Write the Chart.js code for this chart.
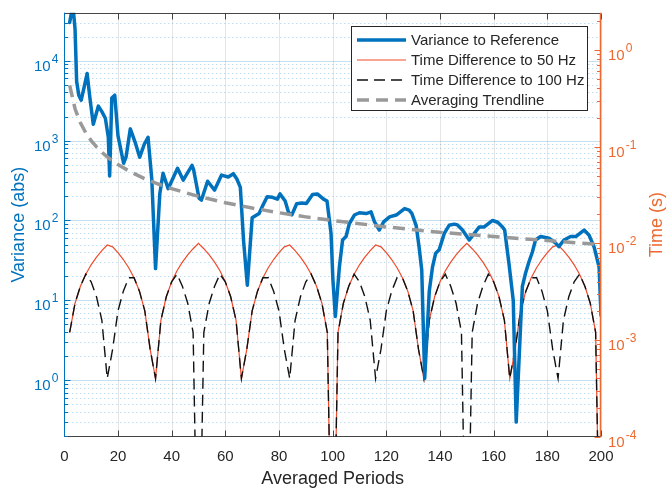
<!DOCTYPE html>
<html>
<head>
<meta charset="utf-8">
<script src="https://cdn.jsdelivr.net/npm/chart.js@4.4.1/dist/chart.umd.min.js"></script>
<style>
  html, body { margin: 0; padding: 0; background: #fff; }
  canvas { display: block; }
</style>
</head>
<body>
<canvas id="chart" width="667" height="489"></canvas>
<script>
// ---- data ----
const xTicks = [0, 20, 40, 60, 80, 100, 120, 140, 160, 180, 200];
const leftExps = [0, 1, 2, 3, 4];        // 10^k on the variance axis
const rightExps = [-4, -3, -2, -1, 0];   // 10^k on the time axis

// variance to reference (left axis)
const varX = [2, 3.2, 4, 4.6, 5.4, 6.3, 7.6, 8.5, 9.6, 10.8, 12.7, 14, 15.3, 16.4, 16.9, 17.7, 18.8, 20, 22.1, 23,
  24.6, 26.4, 28.1, 29.8, 31.2, 32.6, 34, 35.6, 36.8, 38.7, 42.2, 44.3, 47.6, 48.2, 50.2, 51.1, 53.4, 56, 58.6, 61.1,
  63, 64.3, 65.6, 66.8, 68.2, 70, 72.6, 73.8, 75.6, 77.6, 79.4, 80.4, 82.3, 83.6, 84.8, 86.6, 88.5, 90.2, 92.5, 94.3,
  96.6, 97.9, 99.4, 100.1, 101, 102.5, 103.7, 105, 106.2, 108.1, 110, 112.5, 114.3, 115.6, 117.4, 119, 121.2, 123.7, 126.8, 128.5,
  129.5, 131.1, 132.2, 133.2, 134.3, 136, 137.2, 138.4, 139.7, 141.6, 143.4, 145.3, 146.5, 148.4, 150.9, 152.8, 154.6, 156.5, 159.6, 161.5,
  163.3, 164.1, 165.7, 167.3, 168.4, 170.7, 171.9, 173.1, 174.4, 175.6, 177.5, 180.6, 183.1, 184.3, 186.2, 188.7, 190.6, 193.7, 195.5, 197.4,
  199.3, 200];
const varY = [30000, 50000, 25000, 5500, 3700, 3200, 5000, 6900, 3300, 1600, 2700, 2300, 1900, 1100, 360, 3400, 3700, 1150, 520, 620,
  1400, 950, 620, 900, 1100, 330, 25, 218, 390, 250, 450, 320, 490, 430, 190, 180, 310, 240, 370, 350,
  385, 330, 260, 56, 15.5, 108, 122, 150, 198, 195, 185, 215, 175, 125, 118, 162, 165, 163, 212, 215,
  185, 175, 69, 18, 6.3, 26, 57, 63, 91, 117, 125, 122, 128, 96, 76, 96, 111, 117, 141, 135,
  123, 87, 47, 24, 1.06, 13, 26, 39, 43, 69, 87, 90, 88, 76, 57, 69, 83, 83, 100, 95,
  83, 76, 29, 10, 0.3, 15, 22, 30, 40, 57, 63, 60, 52, 47, 57, 63, 63, 76, 66, 47,
  26, 6.5];

// averaging trendline (left axis)
const trendX = [2, 4, 6, 8, 10, 12, 14, 16, 18, 20, 25, 30, 35, 40, 50, 60, 70, 80, 90, 100, 120, 140, 160, 180, 200];
const trendY = [4900, 2500, 1667, 1250, 1000, 833, 714, 625, 556, 500, 400, 333, 286, 250, 200, 167, 143, 125, 111, 100, 83, 71, 63, 56, 50];

// time differences (right axis), every second period
const periods = [2, 4, 6, 8, 10, 12, 14, 16, 18, 20, 22, 24, 26, 28, 30, 32, 34, 36, 38, 40, 42, 44, 46, 48, 50,
  52, 54, 56, 58, 60, 62, 64, 66, 68, 70, 72, 74, 76, 78, 80, 82, 84, 86, 88, 90, 92, 94, 96, 98, 100,
  102, 104, 106, 108, 110, 112, 114, 116, 118, 120, 122, 124, 126, 128, 130, 132, 134, 136, 138, 140, 142, 144, 146, 148, 150,
  152, 154, 156, 158, 160, 162, 164, 166, 168, 170, 172, 174, 176, 178, 180, 182, 184, 186, 188, 190, 192, 194, 196, 198, 200];
const diff50 = [0.0012, 0.0024, 0.0036, 0.0048, 0.0060, 0.0072, 0.0084, 0.0096, 0.0092, 0.0080, 0.0068, 0.0056, 0.0044, 0.0032, 0.0020, 0.0008,
  0.0004, 0.0016, 0.0028, 0.0040, 0.0052, 0.0064, 0.0076, 0.0088, 0.0100, 0.0088, 0.0076, 0.0064, 0.0052, 0.0040, 0.0028, 0.0016,
  0.0004, 0.0008, 0.0020, 0.0032, 0.0044, 0.0056, 0.0068, 0.0080, 0.0092, 0.0096, 0.0084, 0.0072, 0.0060, 0.0048, 0.0036, 0.0024, 0.0012, 0.000001,
  0.0012, 0.0024, 0.0036, 0.0048, 0.0060, 0.0072, 0.0084, 0.0096, 0.0092, 0.0080, 0.0068, 0.0056, 0.0044, 0.0032, 0.0020, 0.0008,
  0.0004, 0.0016, 0.0028, 0.0040, 0.0052, 0.0064, 0.0076, 0.0088, 0.0100, 0.0088, 0.0076, 0.0064, 0.0052, 0.0040, 0.0028, 0.0016,
  0.0004, 0.0008, 0.0020, 0.0032, 0.0044, 0.0056, 0.0068, 0.0080, 0.0092, 0.0096, 0.0084, 0.0072, 0.0060, 0.0048, 0.0036, 0.0024, 0.0012, 0.000001];
const diff100 = [0.0012, 0.0024, 0.0036, 0.0048, 0.0040, 0.0028, 0.0016, 0.0004, 0.0008, 0.0020, 0.0032, 0.0044, 0.0044, 0.0032, 0.0020, 0.0008,
  0.0004, 0.0016, 0.0028, 0.0040, 0.0048, 0.0036, 0.0024, 0.0012, 0.000001, 0.0012, 0.0024, 0.0036, 0.0048, 0.0040, 0.0028, 0.0016,
  0.0004, 0.0008, 0.0020, 0.0032, 0.0044, 0.0044, 0.0032, 0.0020, 0.0008, 0.0004, 0.0016, 0.0028, 0.0040, 0.0048, 0.0036, 0.0024, 0.0012, 0.000001,
  0.0012, 0.0024, 0.0036, 0.0048, 0.0040, 0.0028, 0.0016, 0.0004, 0.0008, 0.0020, 0.0032, 0.0044, 0.0044, 0.0032, 0.0020, 0.0008,
  0.0004, 0.0016, 0.0028, 0.0040, 0.0048, 0.0036, 0.0024, 0.0012, 0.000001, 0.0012, 0.0024, 0.0036, 0.0048, 0.0040, 0.0028, 0.0016,
  0.0004, 0.0008, 0.0020, 0.0032, 0.0044, 0.0044, 0.0032, 0.0020, 0.0008, 0.0004, 0.0016, 0.0028, 0.0040, 0.0048, 0.0036, 0.0024, 0.0012, 0.000001];

// ---- styles ----
const FONT = '"Liberation Sans", Arial, Helvetica, sans-serif';
const INK = '#262626';
const BLUE = '#0072BD';
const ORANGE = '#EC6A32';
const RED = '#EF4A2C';
const GRAY = '#999999';

const pts = (xs, ys) => xs.map((x, i) => ({ x, y: ys[i] }));

const legendItems = [
  { text: 'Variance to Reference', color: BLUE, width: 3.5, dash: [] },
  { text: 'Time Difference to 50 Hz', color: RED, width: 1.2, dash: [] },
  { text: 'Time Difference to 100 Hz', color: '#111111', width: 1.4, dash: [11, 6] },
  { text: 'Averaging Trendline', color: GRAY, width: 3.5, dash: [12, 7] }
];

function minorValues(scale) {
  const out = [];
  for (let k = Math.floor(Math.log10(scale.min)); k <= Math.ceil(Math.log10(scale.max)); k++) {
    for (let m = 1; m <= 9; m++) {
      const v = m * Math.pow(10, k);
      if (v >= scale.min && v <= scale.max) out.push({ v, major: m === 1 });
    }
  }
  return out;
}

function hline(ctx, x0, x1, y) {
  ctx.beginPath(); ctx.moveTo(x0, y); ctx.lineTo(x1, y); ctx.stroke();
}

function powLabel(ctx, exp, x, y, alignRight) {
  const base = '15px ' + FONT, small = '12px ' + FONT;
  ctx.font = base;
  const wb = ctx.measureText('10').width;
  ctx.font = small;
  const we = ctx.measureText(String(exp)).width;
  const x0 = alignRight ? x - wb - we - 1 : x;
  ctx.textAlign = 'left';
  ctx.textBaseline = 'alphabetic';
  ctx.font = base;
  ctx.fillText('10', x0, y + 10);
  ctx.font = small;
  ctx.fillText(String(exp), x0 + wb + 1, y + 2);
}

const frame = {
  id: 'frame',
  beforeDatasetsDraw(chart) {
    const { ctx, chartArea: a } = chart;
    const yL = chart.scales.y, xs = chart.scales.x;
    ctx.save();
    ctx.lineWidth = 1;
    // minor dotted grid
    ctx.strokeStyle = 'rgba(0,114,189,0.35)';
    ctx.setLineDash([1, 3]);
    minorValues(yL).filter(t => !t.major).forEach(t => {
      hline(ctx, a.left, a.right, Math.round(yL.getPixelForValue(t.v)) + 0.5);
    });
    ctx.setLineDash([]);
    // major grid
    ctx.strokeStyle = 'rgba(0,114,189,0.22)';
    leftExps.forEach(k => hline(ctx, a.left, a.right, Math.round(yL.getPixelForValue(Math.pow(10, k))) + 0.5));
    // vertical grid
    ctx.strokeStyle = 'rgba(38,38,38,0.12)';
    xTicks.forEach(v => {
      const px = Math.round(xs.getPixelForValue(v)) + 0.5;
      ctx.beginPath(); ctx.moveTo(px, a.top); ctx.lineTo(px, a.bottom); ctx.stroke();
    });
    ctx.restore();
  },
  afterDatasetsDraw(chart) {
    const { ctx, chartArea: a } = chart;
    const yL = chart.scales.y, yR = chart.scales.y1, xs = chart.scales.x;
    ctx.save();
    ctx.lineWidth = 1;
    // top and bottom box lines with x ticks
    ctx.strokeStyle = 'rgba(38,38,38,0.85)';
    const top = Math.round(a.top) + 0.5, bot = Math.round(a.bottom) - 0.5;
    hline(ctx, a.left, a.right, top);
    hline(ctx, a.left, a.right, bot);
    xTicks.forEach(v => {
      const px = Math.round(xs.getPixelForValue(v)) + 0.5;
      ctx.beginPath();
      ctx.moveTo(px, top); ctx.lineTo(px, top + 6);
      ctx.moveTo(px, bot); ctx.lineTo(px, bot - 6);
      ctx.stroke();
    });
    // x tick labels
    ctx.fillStyle = INK;
    ctx.font = '15px ' + FONT;
    ctx.textAlign = 'center';
    ctx.textBaseline = 'middle';
    xTicks.forEach(v => ctx.fillText(String(v), xs.getPixelForValue(v), 457));
    ctx.font = '18px ' + FONT;
    ctx.fillText('Averaged Periods', (a.left + a.right) / 2, 479);

    // left axis (variance)
    const lx = Math.round(a.left) + 0.5;
    ctx.strokeStyle = BLUE;
    ctx.beginPath(); ctx.moveTo(lx, a.top); ctx.lineTo(lx, a.bottom); ctx.stroke();
    minorValues(yL).forEach(t => {
      const py = Math.round(yL.getPixelForValue(t.v)) + 0.5;
      hline(ctx, lx, lx + (t.major ? 6 : 3.5), py);
    });
    ctx.fillStyle = BLUE;
    leftExps.forEach(k => powLabel(ctx, k, a.left - 6, yL.getPixelForValue(Math.pow(10, k)), true));
    ctx.save();
    ctx.translate(19, (a.top + a.bottom) / 2);
    ctx.rotate(-Math.PI / 2);
    ctx.font = '18px ' + FONT;
    ctx.textAlign = 'center';
    ctx.textBaseline = 'middle';
    ctx.fillText('Variance (abs)', 0, 0);
    ctx.restore();

    // right axis (time)
    const rx = Math.round(a.right) - 0.5;
    ctx.strokeStyle = ORANGE;
    ctx.lineWidth = 1.5;
    ctx.beginPath(); ctx.moveTo(rx, a.top); ctx.lineTo(rx, a.bottom); ctx.stroke();
    ctx.lineWidth = 1;
    minorValues(yR).forEach(t => {
      const py = Math.round(yR.getPixelForValue(t.v)) + 0.5;
      hline(ctx, rx, rx - (t.major ? 6 : 3.5), py);
    });
    ctx.fillStyle = ORANGE;
    rightExps.forEach(k => powLabel(ctx, k, a.right + 7, yR.getPixelForValue(Math.pow(10, k)), false));
    ctx.save();
    ctx.translate(657, (a.top + a.bottom) / 2);
    ctx.rotate(-Math.PI / 2);
    ctx.font = '18px ' + FONT;
    ctx.textAlign = 'center';
    ctx.textBaseline = 'middle';
    ctx.fillText('Time (s)', 0, 0);
    ctx.restore();
    ctx.restore();
  },
  afterDraw(chart) {
    const ctx = chart.ctx;
    const bx = 351.5, by = 26.5, bw = 236, bh = 84;
    ctx.save();
    ctx.fillStyle = '#ffffff';
    ctx.fillRect(bx, by, bw, bh);
    ctx.strokeStyle = INK;
    ctx.lineWidth = 1;
    ctx.strokeRect(bx, by, bw, bh);
    legendItems.forEach((it, i) => {
      const y = 40 + i * 20;
      ctx.strokeStyle = it.color;
      ctx.lineWidth = it.width;
      ctx.setLineDash(it.dash);
      ctx.beginPath(); ctx.moveTo(357, y); ctx.lineTo(406, y); ctx.stroke();
      ctx.setLineDash([]);
      ctx.fillStyle = INK;
      ctx.font = '15px ' + FONT;
      ctx.textAlign = 'left';
      ctx.textBaseline = 'middle';
      ctx.fillText(it.text, 411, y + 1);
    });
    ctx.restore();
  }
};

new Chart(document.getElementById('chart').getContext('2d'), {
  type: 'line',
  data: {
    datasets: [
      { label: 'Averaging Trendline', data: pts(trendX, trendY), yAxisID: 'y',
        borderColor: GRAY, borderWidth: 3.5, borderDash: [12, 7], pointRadius: 0, tension: 0, clip: 0 },
      { label: 'Variance to Reference', data: pts(varX, varY), yAxisID: 'y',
        borderColor: BLUE, borderWidth: 3.5, borderJoinStyle: 'round', borderCapStyle: 'round', pointRadius: 0, tension: 0, clip: 0 },
      { label: 'Time Difference to 100 Hz', data: pts(periods, diff100), yAxisID: 'y1',
        borderColor: '#111111', borderWidth: 1.4, borderDash: [11, 6], pointRadius: 0, tension: 0, clip: 0 },
      { label: 'Time Difference to 50 Hz', data: pts(periods, diff50), yAxisID: 'y1',
        borderColor: RED, borderWidth: 1.2, pointRadius: 0, tension: 0, clip: 0 }
    ]
  },
  options: {
    responsive: false,
    devicePixelRatio: 1,
    animation: false,
    events: [],
    layout: { padding: { left: 64.3, right: 66, top: 12.7, bottom: 52.3 } },
    plugins: { legend: { display: false }, tooltip: { enabled: false } },
    scales: {
      x: { type: 'linear', min: 0, max: 200, display: false },
      y: { type: 'logarithmic', position: 'left', min: 0.197, max: 39800, display: false },
      y1: { type: 'logarithmic', position: 'right', min: 0.0001, max: 2.43, display: false }
    }
  },
  plugins: [frame]
});
</script>
</body>
</html>
